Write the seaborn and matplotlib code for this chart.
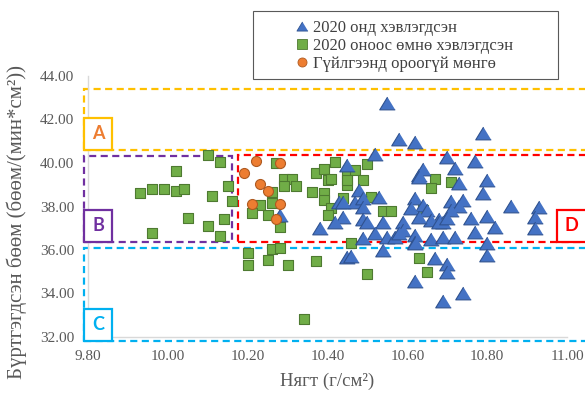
import matplotlib
matplotlib.use("Agg")
import matplotlib.pyplot as plt
from matplotlib.patches import Rectangle
from matplotlib.lines import Line2D
import seaborn as sns

# Coins minted in 2020 (density g/cm^2, registered counts)
new_x = [10.55, 10.58, 10.62, 10.79, 10.52, 10.45, 10.70, 10.77, 10.64, 10.63,
         10.72, 10.73, 10.80, 10.79, 10.48, 10.47, 10.49, 10.49, 10.53, 10.43,
         10.62, 10.64, 10.61, 10.71, 10.74, 10.73, 10.71, 10.65, 10.86, 10.93,
         10.80, 10.76, 10.68, 10.59, 10.66, 10.69, 10.92, 10.77, 10.82, 10.92,
         10.44, 10.49, 10.50, 10.54, 10.38, 10.42, 10.28, 10.52, 10.49, 10.55,
         10.57, 10.59, 10.62, 10.62, 10.66, 10.69, 10.72, 10.58, 10.80, 10.62,
         10.45, 10.46, 10.54, 10.67, 10.70, 10.70, 10.80, 10.62, 10.74, 10.69,
         10.63, 10.63, 10.68, 10.70, 10.44]
new_y = [42.76, 41.10, 40.97, 41.38, 40.41, 39.91, 40.28, 40.09, 39.72, 39.45,
         39.77, 39.08, 39.22, 38.62, 38.76, 38.21, 38.39, 37.98, 38.44, 38.21,
         38.39, 38.07, 37.93, 38.25, 38.30, 38.02, 37.84, 37.84, 38.02, 37.98,
         37.56, 37.47, 37.43, 37.29, 37.38, 37.29, 37.52, 36.83, 37.06, 37.01,
         37.52, 37.43, 37.29, 37.29, 37.01, 37.29, 37.61, 36.78, 36.55, 36.60,
         36.60, 36.92, 36.69, 36.37, 36.51, 36.60, 36.60, 36.78, 36.32, 36.32,
         35.68, 35.72, 36.00, 35.63, 35.36, 34.99, 35.77, 34.57, 34.02, 33.66,
         39.36, 37.52, 37.29, 37.47, 38.21]

# Coins minted before 2020
old_x = [10.10, 10.13, 10.02, 9.93, 9.96, 9.99, 10.02, 10.04, 10.11, 10.15,
         10.16, 10.05, 10.10, 10.14, 9.96, 10.13, 10.27, 10.26, 10.29, 10.31,
         10.29, 10.32, 10.23, 10.26, 10.21, 10.25, 10.28, 10.36, 10.37, 10.39,
         10.40, 10.41, 10.42, 10.39, 10.39, 10.44, 10.41, 10.40, 10.45, 10.45,
         10.20, 10.20, 10.26, 10.28, 10.25, 10.30, 10.37, 10.34, 10.46, 10.50,
         10.47, 10.49, 10.51, 10.54, 10.56, 10.67, 10.66, 10.64, 10.63, 10.65,
         10.50, 10.71, 10.45]
old_y = [40.37, 40.05, 39.63, 38.62, 38.80, 38.80, 38.71, 38.80, 38.48, 38.94,
         38.25, 37.47, 37.10, 37.43, 36.78, 36.64, 40.00, 38.67, 39.26, 39.26,
         38.94, 38.94, 38.07, 38.16, 37.70, 37.61, 37.06, 38.67, 39.54, 39.72,
         39.22, 39.26, 40.05, 38.62, 38.30, 38.39, 37.93, 37.61, 39.49, 38.99,
         35.86, 35.31, 36.05, 36.09, 35.54, 35.31, 35.49, 32.83, 36.30, 39.95,
         39.68, 39.22, 38.44, 37.79, 37.79, 39.26, 38.85, 37.84, 35.63, 34.99,
         34.90, 39.13, 39.22]

# Uncirculated coins
unc_x = [10.22, 10.28, 10.19, 10.23, 10.25, 10.21, 10.28, 10.27]
unc_y = [40.09, 40.00, 39.54, 39.03, 38.71, 38.11, 38.11, 37.43]

series_labels = ["2020 онд хэвлэгдсэн",
                 "2020 оноос өмнө хэвлэгдсэн",
                 "Гүйлгээнд ороогүй мөнгө"]
x_ticks = [9.8, 10.0, 10.2, 10.4, 10.6, 10.8, 11.0]
y_ticks = [32, 34, 36, 38, 40, 42, 44]

sns.set_theme(style="white")
plt.rcParams["font.family"] = ["Liberation Serif", "DejaVu Serif"]

fig = plt.figure(figsize=(5.85, 3.94), dpi=100)
ax = fig.add_axes([88 / 585, 57 / 394, 479 / 585, 261 / 394])

blue, blue_e = "#4472C4", "#2F528F"
green, green_e = "#70AD47", "#4E7A31"
orange, orange_e = "#ED7D31", "#AE5A21"

tri = [(0, 0.82), (-1, -0.82), (1, -0.82)]

sns.scatterplot(x=new_x, y=new_y, marker=tri, s=125, color=blue,
                edgecolor=blue_e, linewidth=0.8, ax=ax, zorder=4)
sns.scatterplot(x=old_x, y=old_y, marker="s", s=48, color=green,
                edgecolor=green_e, linewidth=0.8, ax=ax, zorder=3)
sns.scatterplot(x=unc_x, y=unc_y, marker="o", s=52, color=orange,
                edgecolor=orange_e, linewidth=0.8, ax=ax, zorder=5)

ax.set_xlim(9.8, 11.0)
ax.set_ylim(32, 44)
ax.set_xticks(x_ticks)
ax.set_yticks(y_ticks)
ax.set_xticklabels([f"{v:.2f}" for v in x_ticks])
ax.set_yticklabels([f"{v:.2f}" for v in y_ticks])
ax.tick_params(axis="both", length=0, labelsize=11, colors="#595959")
ax.tick_params(axis="y", pad=10)
ax.tick_params(axis="x", pad=9)
for side in ["top", "right"]:
    ax.spines[side].set_visible(False)
for side in ["left", "bottom"]:
    ax.spines[side].set_color("#D9D9D9")
    ax.spines[side].set_linewidth(1.0)
ax.grid(False)

ax.set_xlabel("Нягт (г/см²)", fontsize=13.5, color="#595959", labelpad=7)
fig.text(17 / 585, 1 - 222 / 394, "Бүртгэгдсэн бөөм (бөөм/(мин*см²))",
         rotation=90, ha="center", va="center", fontsize=15, color="#595959")

# Dashed zones
dash = (0, (3.2, 2.0))
zones = [
    ("#FFC000", 9.79, 40.60, 11.08, 43.40),
    ("#7030A0", 9.79, 36.37, 10.16, 40.32),
    ("#FF0000", 10.175, 36.37, 11.08, 40.37),
    ("#00B0F0", 9.79, 31.82, 11.08, 36.09),
]
for col, x0, y0, x1, y1 in zones:
    ax.add_patch(Rectangle((x0, y0), x1 - x0, y1 - y0, fill=False,
                           edgecolor=col, linewidth=1.6, linestyle=dash,
                           clip_on=False, zorder=2))

# Zone labels
tags = [
    ("A", "#FFC000", "#ED7D31", 9.79, 40.60),
    ("B", "#7030A0", "#7030A0", 9.79, 36.37),
    ("C", "#00B0F0", "#00B0F0", 9.79, 31.82),
    ("D", "#FF0000", "#FF0000", 10.975, 36.37),
]
for name, ecol, tcol, x0, y0 in tags:
    w = 0.07 if name != "D" else 0.1
    ax.add_patch(Rectangle((x0, y0), w, 1.48, fill=True, facecolor="white",
                           edgecolor=ecol, linewidth=1.6, clip_on=False,
                           zorder=6))
    ax.text(x0 + 0.035, y0 + 0.74, name, color=tcol, fontsize=13,
            fontweight="bold", family="Lato", ha="center", va="center",
            zorder=7, clip_on=False)

# Legend
handles = [
    Line2D([], [], linestyle="none", marker=tri, markersize=8,
           markerfacecolor=blue, markeredgecolor=blue_e, markeredgewidth=0.6),
    Line2D([], [], linestyle="none", marker="s", markersize=6.5,
           markerfacecolor=green, markeredgecolor=green_e, markeredgewidth=0.6),
    Line2D([], [], linestyle="none", marker="o", markersize=6.5,
           markerfacecolor=orange, markeredgecolor=orange_e, markeredgewidth=0.6),
]
fig.patches.append(Rectangle((253 / 585, 1 - 79 / 394), 305 / 585, 68 / 394,
                             transform=fig.transFigure, fill=True,
                             facecolor="white", edgecolor="#595959",
                             linewidth=0.8, zorder=8))
leg = fig.legend(handles, series_labels, loc="upper left",
                 bbox_to_anchor=(282 / 585, 1 - 7 / 394), frameon=False,
                 fontsize=12, handlelength=0.8, handletextpad=0.25,
                 labelspacing=0.1, borderpad=0.3, labelcolor="#404040")
leg.set_zorder(9)

fig.savefig("out.png", dpi=100)
